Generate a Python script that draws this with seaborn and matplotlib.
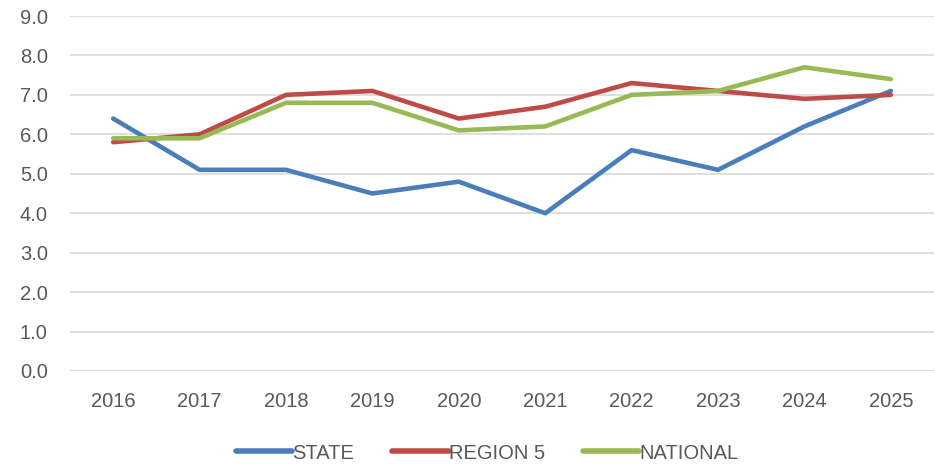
import matplotlib
matplotlib.use("Agg")
import matplotlib.pyplot as plt
import seaborn as sns
import pandas as pd
from matplotlib.ticker import FormatStrFormatter

years = ["2016", "2017", "2018", "2019", "2020", "2021", "2022", "2023", "2024", "2025"]
state = [6.4, 5.1, 5.1, 4.5, 4.8, 4.0, 5.6, 5.1, 6.2, 7.1]
region5 = [5.8, 6.0, 7.0, 7.1, 6.4, 6.7, 7.3, 7.1, 6.9, 7.0]
national = [5.9, 5.9, 6.8, 6.8, 6.1, 6.2, 7.0, 7.1, 7.7, 7.4]
series_names = ["STATE", "REGION 5", "NATIONAL"]
colors = ["#4A7EBB", "#BE4B48", "#98B954"]

df = pd.DataFrame({
    "year": years * 3,
    "value": state + region5 + national,
    "series": [series_names[0]] * len(years) + [series_names[1]] * len(years) + [series_names[2]] * len(years),
})
df["x"] = df["year"].map({y: i for i, y in enumerate(years)})

sns.set_theme(style="white")
plt.rcParams["font.family"] = ["Liberation Sans", "DejaVu Sans"]

fig = plt.figure(figsize=(9.35, 4.69), dpi=100)
ax = fig.add_axes([70 / 935, 1 - 371 / 469, 864 / 935, 355 / 469])

sns.lineplot(data=df, x="x", y="value", hue="series", hue_order=series_names,
             palette=colors, linewidth=3.3, ax=ax, legend=True, sort=False)

ax.set_xlim(-0.5, len(years) - 0.5)
ax.set_ylim(0, 9)
ax.set_yticks(range(0, 10))
ax.yaxis.set_major_formatter(FormatStrFormatter("%.1f"))
ax.set_xticks(range(len(years)))
ax.set_xticklabels(years)
ax.set_xlabel("")
ax.set_ylabel("")
ax.grid(axis="y", color="#D9D9D9", linewidth=1.2)
ax.grid(axis="x", visible=False)
ax.set_axisbelow(True)
for s in ax.spines.values():
    s.set_visible(False)
ax.tick_params(axis="both", length=0, labelsize=14.5, colors="#595959")
ax.tick_params(axis="y", pad=16)
ax.tick_params(axis="x", pad=15)

handles, labels = ax.get_legend_handles_labels()
leg = ax.legend(handles, labels, loc="center", ncol=3, frameon=False, fontsize=14.5,
                handlelength=2.8, handletextpad=0.0, columnspacing=1.9, labelcolor="#595959")
leg.set_bbox_to_anchor((487 / 935, 1 - 453 / 469), transform=fig.transFigure)
for line in leg.get_lines():
    line.set_linewidth(4)

fig.savefig("out.png", dpi=100)
